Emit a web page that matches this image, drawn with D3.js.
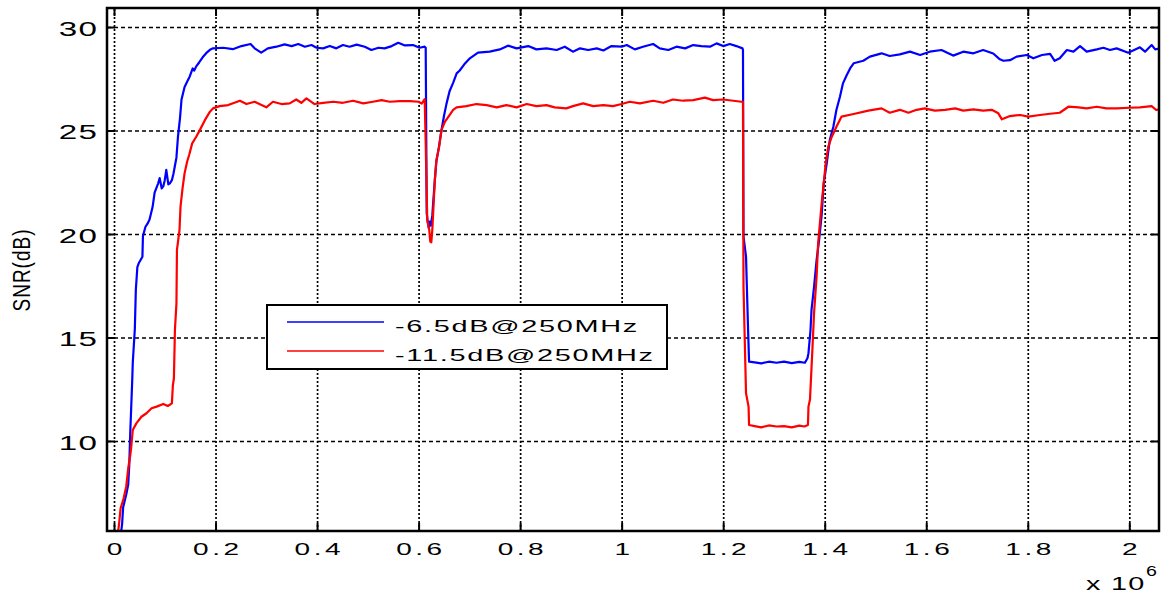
<!DOCTYPE html>
<html>
<head>
<meta charset="utf-8">
<script src="https://cdn.jsdelivr.net/npm/d3@7"></script>
<style>
  body { margin: 0; background: #fff; }
  text { font-family: "Liberation Sans", Arial, sans-serif; fill: #000; }
</style>
</head>
<body>
<div id="chart"></div>
<script>
// tick values / labels
const xTicks = [0, 0.2, 0.4, 0.6, 0.8, 1, 1.2, 1.4, 1.6, 1.8, 2]
const xTickLabels = ["0", "0.2", "0.4", "0.6", "0.8", "1", "1.2", "1.4", "1.6", "1.8", "2"]
const yTicks = [10, 15, 20, 25, 30]
const seriesNames = ["-6.5dB@250MHz", "-11.5dB@250MHz"]

// samples (x in units of 1e6, SNR in dB)
const blueData = [
  [0.013, 5.4], [0.016, 6.0], [0.018, 6.8], [0.024, 7.4], [0.028, 7.9], [0.030, 8.8], [0.032, 10.4],
  [0.034, 11.7], [0.036, 13.0], [0.037, 13.8], [0.040, 15.0], [0.041, 15.4], [0.043, 17.3], [0.046, 18.4],
  [0.049, 18.6], [0.056, 18.9], [0.057, 19.9], [0.062, 20.35], [0.066, 20.5], [0.070, 20.7], [0.076, 21.3],
  [0.080, 22.0], [0.087, 22.45], [0.090, 22.7], [0.094, 22.2], [0.097, 22.3], [0.100, 22.6], [0.103, 23.1],
  [0.107, 22.4], [0.110, 22.45], [0.114, 22.6], [0.117, 22.9], [0.123, 23.7], [0.126, 24.7], [0.130, 25.6],
  [0.133, 26.5], [0.139, 27.1], [0.145, 27.4], [0.149, 27.6], [0.155, 28.0], [0.158, 27.9], [0.162, 28.1],
  [0.168, 28.3], [0.175, 28.55], [0.182, 28.75], [0.189, 28.9], [0.195, 28.97],
  [0.215, 29.0], [0.234, 28.93], [0.251, 29.08], [0.269, 29.18], [0.277, 28.97], [0.290, 28.76], [0.303, 28.97],
  [0.320, 29.05], [0.336, 29.16], [0.350, 29.08], [0.363, 29.18], [0.376, 29.05], [0.389, 29.13], [0.399, 29.0],
  [0.412, 28.97], [0.425, 29.08], [0.438, 28.97], [0.451, 29.13], [0.464, 29.05], [0.478, 29.15], [0.494, 29.05],
  [0.507, 28.89], [0.521, 29.0], [0.533, 28.97], [0.547, 29.08], [0.560, 29.24], [0.573, 29.11], [0.589, 29.13],
  [0.602, 29.0], [0.612, 29.05],
  [0.614, 29.0], [0.616, 21.0], [0.618, 20.6], [0.620, 20.3], [0.622, 20.6], [0.624, 20.4], [0.627, 20.9],
  [0.629, 21.6], [0.632, 22.6], [0.635, 23.5], [0.640, 24.2], [0.645, 25.0], [0.650, 25.7], [0.655, 26.3],
  [0.661, 26.9], [0.668, 27.3], [0.675, 27.76], [0.681, 27.9], [0.690, 28.2], [0.701, 28.49], [0.717, 28.76],
  [0.740, 28.81], [0.760, 28.92], [0.776, 29.1], [0.793, 28.97], [0.816, 29.08], [0.832, 28.92], [0.852, 28.97],
  [0.872, 28.89], [0.888, 29.05], [0.904, 28.81], [0.918, 28.97], [0.934, 28.89], [0.951, 28.97], [0.964, 28.87],
  [0.980, 29.08], [1.000, 29.05], [1.010, 29.13], [1.026, 28.92], [1.042, 29.05], [1.062, 29.18], [1.075, 28.97],
  [1.092, 28.89], [1.108, 29.05], [1.125, 28.97], [1.141, 29.13], [1.157, 29.08], [1.174, 29.05], [1.187, 29.21],
  [1.200, 29.08], [1.213, 29.18], [1.226, 29.08], [1.238, 28.97],
  [1.239, 28.9], [1.240, 19.9], [1.245, 18.9], [1.249, 15.4], [1.251, 13.83], [1.262, 13.8], [1.275, 13.75],
  [1.290, 13.83], [1.305, 13.78], [1.320, 13.83], [1.335, 13.76], [1.350, 13.82], [1.361, 13.78], [1.366, 14.0],
  [1.368, 14.24], [1.372, 15.36], [1.374, 16.33], [1.379, 17.45], [1.384, 18.74], [1.389, 19.71], [1.394, 20.92],
  [1.398, 22.45], [1.404, 23.42], [1.410, 24.54], [1.417, 25.18], [1.423, 25.99], [1.430, 26.63], [1.436, 27.28],
  [1.443, 27.66], [1.450, 28.0], [1.457, 28.25], [1.476, 28.37], [1.489, 28.57], [1.512, 28.73], [1.528, 28.6],
  [1.548, 28.68], [1.568, 28.81], [1.588, 28.65], [1.607, 28.81], [1.630, 28.89], [1.653, 28.62], [1.673, 28.81],
  [1.693, 28.73], [1.712, 28.89], [1.732, 28.72], [1.745, 28.44], [1.752, 28.37], [1.765, 28.4], [1.778, 28.57],
  [1.798, 28.65], [1.811, 28.49], [1.828, 28.65], [1.844, 28.7], [1.853, 28.37], [1.863, 28.49], [1.877, 28.89],
  [1.890, 28.81], [1.903, 29.08], [1.916, 28.81], [1.936, 28.92], [1.949, 29.0], [1.962, 28.89], [1.975, 28.97],
  [1.998, 28.76], [2.021, 29.02], [2.031, 28.81], [2.044, 29.13], [2.051, 28.92], [2.062, 28.97]
]

const redData = [
  [0.007, 5.4], [0.010, 6.0], [0.013, 6.75], [0.019, 7.23], [0.024, 7.79], [0.028, 8.68], [0.032, 9.3],
  [0.034, 9.72], [0.037, 10.53], [0.044, 10.85], [0.054, 11.17], [0.064, 11.34], [0.074, 11.58], [0.084, 11.66],
  [0.097, 11.79], [0.106, 11.69], [0.114, 11.82], [0.116, 12.7], [0.118, 13.03], [0.120, 15.36], [0.123, 16.65],
  [0.124, 19.23], [0.129, 20.19], [0.131, 21.32], [0.135, 22.21], [0.139, 22.93], [0.144, 23.49], [0.148, 23.82],
  [0.154, 24.38], [0.162, 24.7], [0.169, 25.02], [0.179, 25.5], [0.189, 25.91], [0.195, 26.07],
  [0.208, 26.18], [0.225, 26.23], [0.248, 26.44], [0.261, 26.28], [0.277, 26.39], [0.300, 26.12], [0.313, 26.39],
  [0.330, 26.28], [0.346, 26.31], [0.359, 26.5], [0.369, 26.34], [0.379, 26.55], [0.395, 26.28], [0.412, 26.34],
  [0.432, 26.39], [0.451, 26.34], [0.471, 26.44], [0.491, 26.31], [0.510, 26.39], [0.527, 26.47], [0.543, 26.39],
  [0.563, 26.42], [0.583, 26.42], [0.600, 26.39], [0.606, 26.3], [0.612, 26.52],
  [0.614, 24.38], [0.617, 20.68], [0.621, 20.19], [0.623, 19.63], [0.625, 19.6], [0.627, 20.19], [0.630, 21.64],
  [0.632, 22.6], [0.635, 23.57], [0.640, 24.14], [0.645, 25.02], [0.652, 25.43], [0.661, 25.75], [0.668, 26.0],
  [0.675, 26.12], [0.694, 26.18], [0.714, 26.28], [0.734, 26.23], [0.754, 26.12], [0.773, 26.23], [0.793, 26.12],
  [0.813, 26.28], [0.832, 26.18], [0.852, 26.23], [0.868, 26.12], [0.891, 26.07], [0.904, 26.18], [0.924, 26.31],
  [0.944, 26.18], [0.964, 26.23], [0.983, 26.18], [1.000, 26.28], [1.016, 26.39], [1.036, 26.31], [1.062, 26.44],
  [1.082, 26.34], [1.101, 26.5], [1.121, 26.44], [1.141, 26.47], [1.164, 26.59], [1.180, 26.47], [1.200, 26.5],
  [1.220, 26.44], [1.236, 26.39],
  [1.239, 26.39], [1.240, 17.45], [1.245, 12.3], [1.250, 11.66], [1.251, 10.77], [1.262, 10.72], [1.275, 10.66],
  [1.290, 10.75], [1.305, 10.7], [1.320, 10.72], [1.335, 10.66], [1.350, 10.74], [1.360, 10.7], [1.367, 10.77],
  [1.368, 11.66], [1.371, 12.0], [1.376, 14.56], [1.379, 16.17], [1.384, 17.94], [1.387, 19.55], [1.394, 21.48],
  [1.398, 22.45], [1.402, 23.42], [1.407, 24.22], [1.414, 24.7], [1.423, 25.18], [1.433, 25.67], [1.457, 25.8],
  [1.486, 25.96], [1.512, 26.07], [1.528, 25.86], [1.548, 26.0], [1.565, 25.86], [1.581, 26.0], [1.597, 26.07],
  [1.617, 25.96], [1.637, 26.0], [1.657, 26.07], [1.673, 25.96], [1.693, 26.02], [1.712, 25.96], [1.729, 26.0],
  [1.742, 25.83], [1.749, 25.54], [1.765, 25.7], [1.785, 25.75], [1.801, 25.67], [1.824, 25.75], [1.844, 25.81],
  [1.863, 25.86], [1.880, 26.15], [1.900, 26.12], [1.916, 26.07], [1.936, 26.15], [1.955, 26.07], [1.975, 26.07],
  [2.000, 26.1], [2.021, 26.12], [2.044, 26.18], [2.053, 25.99], [2.062, 26.05]
]

const colors = ["#0000ff", "#ff0000"]

const width = 1161
const height = 596
const plotLeft = 107, plotRight = 1159, plotTop = 8, plotBottom = 531

const svg = d3.select("#chart").append("svg")
    .attr("width", width)
    .attr("height", height)

const x = d3.scaleLinear().domain([-0.0138, 2.0585]).range([plotLeft, plotRight])
const y = d3.scaleLinear().domain([5.65, 30.92]).range([plotBottom, plotTop])

// grid lines
svg.append("g")
    .attr("transform", "translate(0," + plotBottom + ")")
    .call(d3.axisBottom(x).tickValues(xTicks).tickSize(-(plotBottom - plotTop)).tickFormat(""))
    .call(g => g.select(".domain").remove())
    .selectAll("line")
    .attr("stroke", "#000").attr("stroke-width", 1.7).attr("stroke-dasharray", "2,2")

svg.append("g")
    .attr("transform", "translate(" + plotLeft + ",0)")
    .call(d3.axisLeft(y).tickValues(yTicks).tickSize(-(plotRight - plotLeft)).tickFormat(""))
    .call(g => g.select(".domain").remove())
    .selectAll("line")
    .attr("stroke", "#000").attr("stroke-width", 1.5).attr("stroke-dasharray", "4,3")

// data lines, clipped to the axes box
svg.append("clipPath").attr("id", "clip")
    .append("rect")
    .attr("x", plotLeft).attr("y", plotTop)
    .attr("width", plotRight - plotLeft).attr("height", plotBottom - plotTop)

const line = d3.line().x(d => x(d[0])).y(d => y(d[1]))

const plot = svg.append("g").attr("clip-path", "url(#clip)")
;[blueData, redData].forEach((data, i) => {
    plot.append("path")
        .datum(data)
        .attr("d", line)
        .attr("fill", "none")
        .attr("stroke", colors[i])
        .attr("stroke-width", 2.2)
        .attr("stroke-linejoin", "round")
})

// axes with inward ticks
const fontFamily = '"Liberation Sans", Arial, sans-serif'

const xAxis = svg.append("g")
    .attr("transform", "translate(0," + plotBottom + ")")
    .call(d3.axisBottom(x).tickValues(xTicks).tickSize(-8).tickPadding(13)
        .tickFormat((d, i) => xTickLabels[i]))
xAxis.select(".domain").remove()
xAxis.selectAll("line").attr("stroke", "#000").attr("stroke-width", 2)
xAxis.selectAll("text")
    .attr("font-size", 16)
    .attr("letter-spacing", 2)
    .attr("dx", 1)
    .attr("transform", "scale(1.75,1)")
    .style("font-family", fontFamily)

const yAxis = svg.append("g")
    .attr("transform", "translate(" + plotLeft + ",0)")
    .call(d3.axisLeft(y).tickValues(yTicks).tickSize(-8).tickFormat(d3.format("d")))
yAxis.select(".domain").remove()
yAxis.selectAll("line").attr("stroke", "#000").attr("stroke-width", 2)
yAxis.selectAll("text")
    .attr("font-size", 19.5)
    .attr("letter-spacing", 0.8)
    .attr("x", -10 / 1.7 + 0.8)
    .attr("dy", "0.42em")
    .attr("transform", "scale(1.7,1)")
    .style("font-family", fontFamily)

const topAxis = svg.append("g")
    .attr("transform", "translate(0," + plotTop + ")")
    .call(d3.axisTop(x).tickValues(xTicks).tickSize(-8).tickFormat(""))
topAxis.select(".domain").remove()
topAxis.selectAll("line").attr("stroke", "#000").attr("stroke-width", 2)

const rightAxis = svg.append("g")
    .attr("transform", "translate(" + plotRight + ",0)")
    .call(d3.axisRight(y).tickValues(yTicks).tickSize(-8).tickFormat(""))
rightAxis.select(".domain").remove()
rightAxis.selectAll("line").attr("stroke", "#000").attr("stroke-width", 2)

// axes box
svg.append("rect")
    .attr("x", plotLeft).attr("y", plotTop)
    .attr("width", plotRight - plotLeft).attr("height", plotBottom - plotTop)
    .attr("fill", "none").attr("stroke", "#000").attr("stroke-width", 2.5)

// axis titles
svg.append("text")
    .attr("transform", "translate(30,270) scale(1.25,1) rotate(-90)")
    .attr("text-anchor", "middle")
    .attr("font-size", 19)
    .attr("letter-spacing", 1)
    .text("SNR(dB)")

svg.append("text")
    .attr("transform", "translate(1086,590) scale(1.6,1)")
    .attr("font-size", 18)
    .attr("letter-spacing", 0.8)
    .text("x 10")
svg.append("text")
    .attr("transform", "translate(1146,576) scale(1.4,1)")
    .attr("font-size", 14)
    .text("6")

// legend
const legend = svg.append("g")
legend.append("rect")
    .attr("x", 267).attr("y", 305)
    .attr("width", 400).attr("height", 64)
    .attr("fill", "#fff").attr("stroke", "#000").attr("stroke-width", 2)

const legendRows = [322, 351]
seriesNames.forEach((name, i) => {
    legend.append("line")
        .attr("x1", 287).attr("x2", 384)
        .attr("y1", legendRows[i]).attr("y2", legendRows[i])
        .attr("stroke", colors[i]).attr("stroke-width", 1.5)
    legend.append("text")
        .attr("transform", "translate(395," + (legendRows[i] + 9.5) + ") scale(1.7,1)")
        .attr("font-size", 17)
        .attr("letter-spacing", 1)
        .text(name)
})
</script>
</body>
</html>
